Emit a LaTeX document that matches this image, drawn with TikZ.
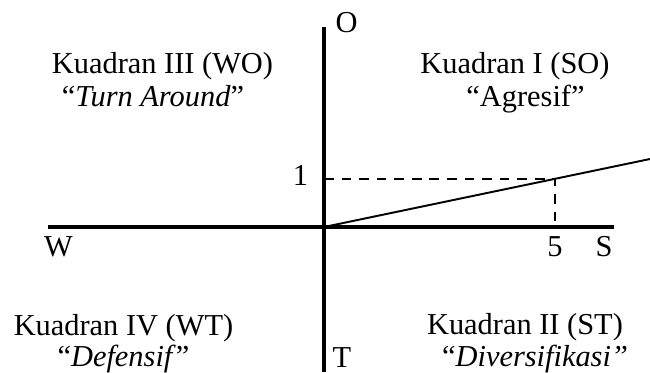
\documentclass[tikz,border=0pt]{standalone}
\usepackage{fontspec}
\setmainfont{Liberation Serif}
\usetikzlibrary{backgrounds}

\begin{document}
\begin{tikzpicture}[
    show background rectangle, inner frame sep=0pt,
    background rectangle/.style={fill=white},
    font=\fontsize{17.3}{20}\selectfont,
    axis/.style={line width=2.3pt},
    thin line/.style={line width=1.1pt},
    guide/.style={line width=1.1pt,dash pattern=on 5.5pt off 4.5pt},
    lbl/.style={anchor=base,inner sep=0pt}]

  \useasboundingbox (-6.48,-2.90) rectangle (6.52,4.54);

  % ---------------- axes
  \coordinate (o) at (0,0);
  \coordinate (w) at (-5.52,0);
  \coordinate (s) at (5.80,0);
  \coordinate (n) at (0,4.00);
  \coordinate (t) at (0,-2.90);
  \draw[axis] (w) -- (s);
  \draw[axis] (n) -- (t);

  % ---------------- position of the point (5,1)
  \coordinate (p)  at (4.62,0.96);
  \coordinate (y1) at (0,0.96);
  \coordinate (x5) at (4.62,0);
  \coordinate (q)  at (6.52,1.36);
  \draw[guide] (y1) -- (p) -- (x5);
  \draw[thin line] (o) -- (q);

  % ---------------- axis labels
  \node[lbl] (lo) at (0.45,3.89)  {O};
  \node[lbl] (lw) at (-5.31,-0.59) {W};
  \node[lbl] (ls) at (5.60,-0.59) {S};
  \node[lbl] (lt) at (0.36,-2.80) {T};
  \node[lbl] (l1) at (-0.47,0.83) {1};
  \node[lbl] (l5) at (4.62,-0.59) {5};

  % ---------------- quadrants
  \node[lbl] (k3) at (-3.23,3.07)  {Kuadran III (WO)};
  \node[lbl] (s3) at (-3.42,2.41)  {“\textit{Turn Around}”};
  \node[lbl] (k1) at (3.82,3.07)   {Kuadran I (SO)};
  \node[lbl] (s1) at (4.03,2.41)   {“Agresif”};
  \node[lbl] (k4) at (-4.01,-2.17) {Kuadran IV (WT)};
  \node[lbl] (s4) at (-4.01,-2.78) {“\textit{Defensif}”};
  \node[lbl] (k2) at (4.02,-2.15)  {Kuadran II (ST)};
  \node[lbl] (s2) at (4.22,-2.78)  {“\textit{Diversifikasi”}};
\end{tikzpicture}
\end{document}
